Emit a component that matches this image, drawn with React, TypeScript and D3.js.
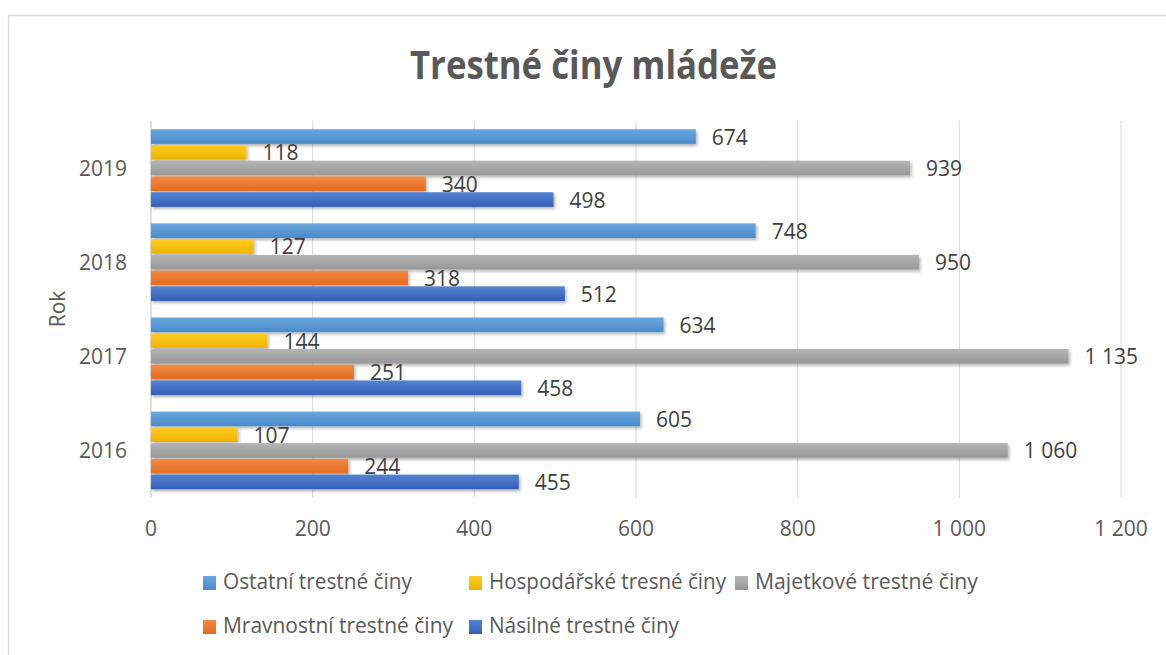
import React from "react";
import * as d3 from "d3";

const years = ["2016", "2017", "2018", "2019"];
const seriesNames = [
  "Ostatní trestné činy",
  "Hospodářské tresné činy",
  "Majetkové trestné činy",
  "Mravnostní trestné činy",
  "Násilné trestné činy",
];
const ostatni = [605, 634, 748, 674];
const hospodarske = [107, 144, 127, 118];
const majetkove = [1060, 1135, 950, 939];
const mravnostni = [244, 251, 318, 340];
const nasilne = [455, 458, 512, 498];
const xTicks = [0, 200, 400, 600, 800, 1000, 1200];

const seriesValues = [ostatni, hospodarske, majetkove, mravnostni, nasilne];
const colors = [
  ["#6AA7DF", "#4A8BCB"],
  ["#FFCB21", "#EDB400"],
  ["#B4B4B4", "#989898"],
  ["#F48A44", "#E06B1E"],
  ["#5583D3", "#335FB5"],
];

const fmt = (v: number) => {
  const s = String(v);
  return s.length > 3 ? s.slice(0, s.length - 3) + " " + s.slice(-3) : s;
};

export default function App() {
  const W = 1166, H = 655;
  const left = 151, right = 1121, top = 121, bottom = 497.5;
  const x = d3.scaleLinear().domain([0, 1200]).range([left, right]);
  const y = d3.scaleBand().domain([...years].reverse()).range([top, bottom]).paddingInner(0.152).paddingOuter(0.076);
  const inner = d3.scaleBand().domain(seriesNames.map((_, i) => String(i))).range([0, y.bandwidth()]).padding(0.07);
  const font = "'Open Sans', sans-serif";
  const fs = 21;

  const legendItems = [
    { i: 0, x: 203, y: 589, w: 189 },
    { i: 1, x: 469, y: 589, w: 237 },
    { i: 2, x: 735, y: 589, w: 223 },
    { i: 3, x: 203, y: 633, w: 230 },
    { i: 4, x: 469, y: 633, w: 190 },
  ];

  return (
    <svg width={W} height={H} style={{ position: "absolute", left: 0, top: 0, background: "#fff" }}>
      <defs>
        {colors.map((c, i) => (
          <linearGradient key={i} id={`g${i}`} x1="0" y1="0" x2="0" y2="1">
            <stop offset="0" stopColor={c[0]} />
            <stop offset="1" stopColor={c[1]} />
          </linearGradient>
        ))}
        <filter id="sh" x="-5%" y="-30%" width="110%" height="180%">
          <feDropShadow dx="1.5" dy="2" stdDeviation="1.5" floodColor="#000" floodOpacity="0.3" />
        </filter>
      </defs>
      <rect x={8.5} y={15.5} width={1200} height={700} fill="#fff" stroke="#d9d9d9" strokeWidth={1.5} />
      <text x={593.5} y={79} textAnchor="middle" fontFamily={font} fontWeight="bold" fontSize={40}
        fill="#595959" textLength={367} lengthAdjust="spacingAndGlyphs">
        Trestné činy mládeže
      </text>
      {xTicks.map((t) => (
        <g key={t}>
          {t > 0 && <line x1={x(t)} x2={x(t)} y1={top} y2={bottom} stroke="#d9d9d9" strokeWidth={1} />}
          <text x={x(t)} y={536} textAnchor="middle" fontFamily={font} fontSize={fs} fill="#595959">
            {fmt(t)}
          </text>
        </g>
      ))}
      <line x1={left} x2={left} y1={top} y2={bottom} stroke="#bfbfbf" strokeWidth={1} />
      {years.map((yr, yi) => (
        <g key={yr}>
          <text x={127} y={(y(yr) as number) + y.bandwidth() / 2 + 7.5} textAnchor="end" fontFamily={font} fontSize={fs} fill="#595959">
            {yr}
          </text>
          {seriesValues.map((vals, si) => {
            const by = (y(yr) as number) + (inner(String(si)) as number);
            const h = inner.bandwidth();
            return (
              <g key={si}>
                <rect x={left} y={by} width={x(vals[yi]) - left} height={h} fill={`url(#g${si})`} filter="url(#sh)" />
                <text x={x(vals[yi]) + 16} y={by + h / 2 + 8} fontFamily={font} fontSize={fs} fill="#404040">
                  {fmt(vals[yi])}
                </text>
              </g>
            );
          })}
        </g>
      ))}
      <text transform={`translate(65,309) rotate(-90)`} textAnchor="middle" fontFamily={font} fontSize={fs} fill="#595959">
        Rok
      </text>
      {legendItems.map((it) => (
        <g key={it.i}>
          <rect x={it.x} y={it.y - 13} width={13} height={14} fill={`url(#g${it.i})`} />
          <text x={it.x + 20} y={it.y} fontFamily={font} fontSize={fs} fill="#595959"
            textLength={it.w} lengthAdjust="spacingAndGlyphs">
            {seriesNames[it.i]}
          </text>
        </g>
      ))}
    </svg>
  );
}
